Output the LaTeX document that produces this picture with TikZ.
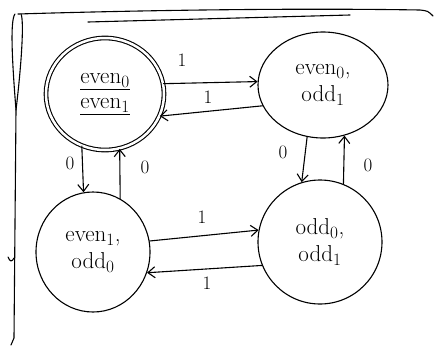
\documentclass[tikz,border=0pt]{standalone}
\usetikzlibrary{shapes.geometric,arrows.meta}
\begin{document}
\begin{tikzpicture}[x=1pt,y=-1pt, line width=1.1pt, line cap=round,
  state/.style={ellipse, draw, inner sep=0pt, align=center,
    font=\fontsize{23}{27}\selectfont},
  accepting/.style={double, double distance=2.5pt},
  edge/.style={-{Straight Barb[length=7pt,width=11pt]}},
  lab/.style={font=\fontsize{19}{21}\selectfont, inner sep=1pt}]
\useasboundingbox (0,0) rectangle (434,346);

% hand-ruled frame
\draw (18,14) .. controls (150,10) and (300,8) .. (420,10) .. controls (428,11) .. (433,16);
\draw (88,22) -- (350,15);
\draw (15,14) .. controls (10,20) and (12,60) .. (16,110) -- (14,338) .. controls (13,342) .. (11,345);
\draw (21,14) .. controls (24,20) and (22,60) .. (16,110);
\draw (8,257) .. controls (10,262) and (12,262) .. (14,258);

% states
\node[state, accepting, minimum width=118pt, minimum height=112pt] (A) at (105,94)
  {\underline{even$_0$}\\[-2pt]\underline{even$_1$}};
\node[state, minimum width=130pt, minimum height=106pt] (B) at (323,85)
  {even$_0$,\\ odd$_1$};
\node[state, minimum width=114pt, minimum height=120pt] (C) at (93,252)
  {even$_1$,\\ odd$_0$};
\node[state, minimum width=124pt, minimum height=124pt] (D) at (320,242)
  {odd$_0$,\\ odd$_1$};

% transitions
\draw[edge] (A.10) -- (B.177);
\draw[edge] (B.199) -- (A.-22);
\draw[edge] (A.-114) -- (C.99);
\draw[edge] (C.63) -- (A.-75);
\draw[edge] (B.-107) -- (D.107);
\draw[edge] (D.68) -- (B.-67);
\draw[edge] (C.11) -- (D.169);
\draw[edge] (D.202) -- (C.-21);

% transition labels
\node[lab] (l1) at (182,60) {1};
\node[lab] (l2) at (208,97) {1};
\node[lab] (l3) at (70,163) {0};
\node[lab] (l4) at (145,167) {0};
\node[lab] (l5) at (283,152) {0};
\node[lab] (l6) at (368,165) {0};
\node[lab] (l7) at (202,217) {1};
\node[lab] (l8) at (207,283) {1};
\end{tikzpicture}
\end{document}
